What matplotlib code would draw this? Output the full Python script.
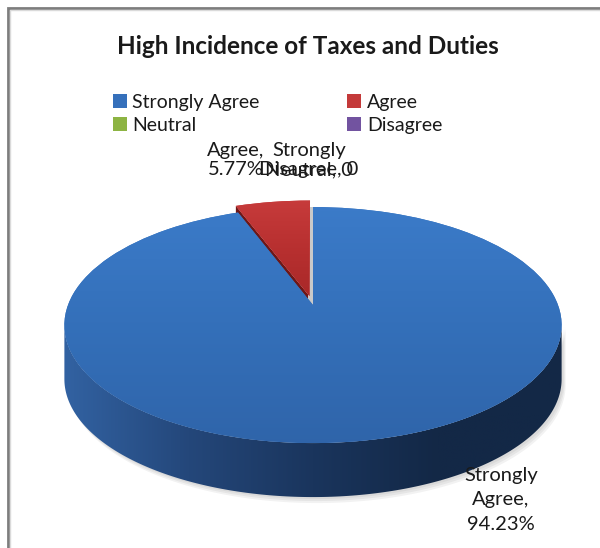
import numpy as np
import matplotlib.pyplot as plt
from matplotlib.transforms import Affine2D, Transform
from matplotlib.patches import Polygon
from matplotlib.colors import LinearSegmentedColormap

categories = ['Strongly Agree', 'Agree', 'Neutral', 'Disagree']
percent = [94.23, 5.77, 0, 0]
slice_colors = ['#3570bb', '#c43a3a', '#8db443', '#7253a0']
explode = [0, 0.08, 0, 0]
title = 'High Incidence of Taxes and Duties'

plt.rcParams['font.family'] = ['Lato', 'DejaVu Sans']


class Tilt(Transform):
    # simple perspective: the back of the disc looks smaller
    input_dims = 2
    output_dims = 2

    def __init__(self, p):
        super().__init__()
        self.p = p

    def transform_non_affine(self, xy):
        xy = np.asarray(xy, dtype=float)
        w = 1 + self.p * xy[:, 1]
        return np.column_stack([xy[:, 0] / w, xy[:, 1] / w])


p = 0.17
depth = 54
fig = plt.figure(figsize=(6, 5.48), dpi=100)
ax = fig.add_axes([0, 0, 1, 1])

wedges, _ = ax.pie(percent, colors=slice_colors, startangle=90, counterclock=False,
                   explode=explode, wedgeprops=dict(linewidth=0))

to_px = Tilt(p) + Affine2D().scale(245, -114.6).translate(313, 305)
for w in wedges:
    w.set_transform(to_px + ax.transData)
    w.set_zorder(4)

# side of the disc (front half only)
t = np.linspace(np.pi + np.arcsin(p), 2 * np.pi - np.arcsin(p), 200)
rim = to_px.transform(np.column_stack([np.cos(t), np.sin(t)]))
side = np.vstack([rim, rim[::-1] + [0, depth]])
side_patch = Polygon(side, closed=True, facecolor='none', edgecolor='none')
ax.add_patch(side_patch)
side_cmap = LinearSegmentedColormap.from_list('side', ['#3262a2', '#24477a', '#1a355d', '#132846', '#132846'])
im = ax.imshow(np.linspace(0, 1, 256)[None, :], cmap=side_cmap, aspect='auto',
               extent=(rim[:, 0].min(), rim[:, 0].max(), 510, 320), zorder=2)
im.set_clip_path(side_patch)

# soft shadow under the disc
for k, a in enumerate([0.05, 0.05, 0.05]):
    sh = np.vstack([rim, rim[::-1] + [0, depth + 2 + 2 * k]]) + [2 + k, 0]
    ax.add_patch(Polygon(sh, closed=True, facecolor='black', alpha=a, edgecolor='none', zorder=1))

# cut faces seen in the gap of the exploded slice
blue, red = wedges[0], wedges[1]
ang = np.deg2rad(red.theta2)
rc = np.array(red.center)
r0 = to_px.transform([rc, rc + [np.cos(ang), np.sin(ang)]])
ax.add_patch(Polygon(np.vstack([r0, r0[::-1] + [0, depth]]), closed=True,
                     facecolor='#6e1717', edgecolor='none', zorder=3))
ang = np.deg2rad(blue.theta2)
b0 = to_px.transform([[0, 0], [np.cos(ang), np.sin(ang)]])
ax.add_patch(Polygon(np.vstack([b0, b0[::-1] + [-5, 0]]), closed=True,
                     facecolor='#c9c9c9', edgecolor='none', zorder=3))

# shading on the tops
top_cmap = LinearSegmentedColormap.from_list('top', ['#3c7cca', '#3470ba', '#2f64a9'])
im2 = ax.imshow(np.linspace(0, 1, 256)[:, None], cmap=top_cmap, aspect='auto',
                extent=(60, 570, 450, 195), zorder=5)
im2.set_clip_path(blue)
red_cmap = LinearSegmentedColormap.from_list('red', ['#c83c3c', '#b83030', '#a82828'])
im3 = ax.imshow(np.linspace(0, 1, 256)[:, None], cmap=red_cmap, aspect='auto',
                extent=(225, 315, 300, 195), zorder=5)
im3.set_clip_path(red)

# data labels (Neutral and Disagree sit on top of each other, as in the original)
lab = dict(ha='center', va='top', fontsize=14.5, color='#1a1a1a', linespacing=1.15)
ax.text(236, 142, 'Agree,\n%.2f%%' % percent[1], **lab)
ax.text(309, 142, 'Strongly\n%s, %d' % (categories[3], percent[3]), **lab)
ax.text(309, 142, '\n%s, %d' % (categories[2], percent[2]), **lab)
ax.text(501, 500, 'Strongly\nAgree,\n%.2f%%' % percent[0], ha='center', va='center',
        fontsize=14.5, color='#1a1a1a', linespacing=1.5)

ax.text(308, 47, title, ha='center', va='center', fontsize=17.5, fontweight='bold', color='#1a1a1a')

order = [0, 2, 1, 3]
leg = ax.legend([wedges[i] for i in order], [categories[i] for i in order], ncol=2,
                loc='upper left', bbox_to_anchor=(113 / 600, 1 - 94 / 548), frameon=False,
                fontsize=14, handlelength=0.7, handleheight=0.7, handletextpad=0.3,
                columnspacing=4.5, labelspacing=0.3, borderpad=0, borderaxespad=0)
for txt in leg.get_texts():
    txt.set_color('#1a1a1a')

# frame of the chart area
ax.plot([8, 8, 600], [548, 8, 8], color='#7d7d7d', lw=2, solid_joinstyle='miter', zorder=6)
ax.plot([10, 10, 600], [548, 10, 10], color='#dadada', lw=1, zorder=6)

ax.set_xlim(0, 600)
ax.set_ylim(548, 0)
ax.set_aspect('auto')
ax.axis('off')
fig.savefig('out.png', dpi=100, facecolor='white')
